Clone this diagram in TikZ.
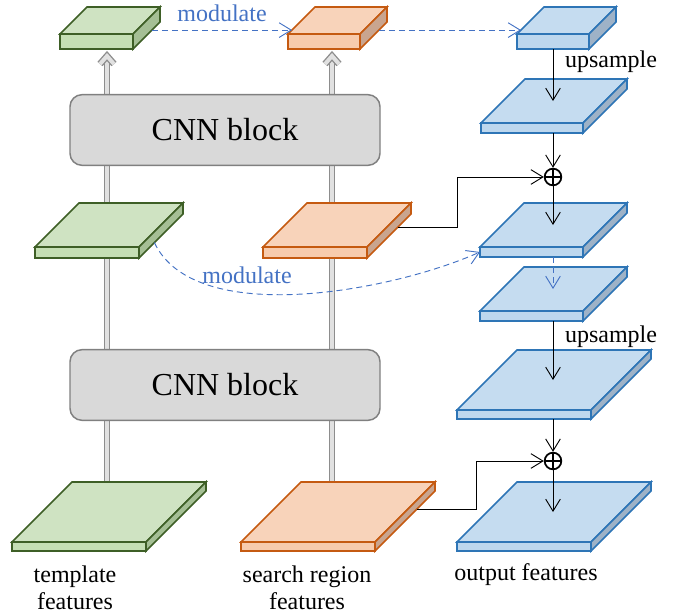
\documentclass[tikz,border=0pt]{standalone}
\usepackage{fontspec}
\setmainfont{Liberation Serif}
\usetikzlibrary{arrows.meta}
\definecolor{greentop}{HTML}{CFE3C2}
\definecolor{greenfront}{HTML}{C5DFB4}
\definecolor{greenside}{HTML}{A5BF95}
\definecolor{greenline}{HTML}{3E5F26}
\definecolor{orangetop}{HTML}{F8D3BA}
\definecolor{orangefront}{HTML}{F7CBAD}
\definecolor{orangeside}{HTML}{C9A58F}
\definecolor{orangeline}{HTML}{C55A11}
\definecolor{bluetop}{HTML}{C5DCF0}
\definecolor{bluefront}{HTML}{BDD7EE}
\definecolor{blueside}{HTML}{9EB2C7}
\definecolor{blueline}{HTML}{2E75B6}
\definecolor{modblue}{HTML}{4472C4}
\definecolor{blockfill}{HTML}{D9D9D9}
\definecolor{blockline}{HTML}{808080}

% feature slab: name, x, y (front top-left), width, depth, thickness, colour
\newcommand{\slab}[7]{%
  \filldraw[slabline, draw=#7line, fill=#7top] (#2,#3) -- ++(#4,0) -- ++(#5,-#5) -- ++(-#4,0) -- cycle;
  \filldraw[slabline, draw=#7line, fill=#7front] (#2,#3) rectangle ++(#4,#6);
  \filldraw[slabline, draw=#7line, fill=#7side] (#2+#4,#3) -- ++(#5,-#5) -- ++(0,#6) -- ++(-#5,#5) -- cycle;
  \coordinate (#1) at (#2+#4/2+#5/2, #3-#5/2);
  \coordinate (#1-b) at (#2+#4/2, #3+#6);
  \coordinate (#1-r) at (#2+#4+0.7*#5, #3-0.7*#5+#6);
  \coordinate (#1-s) at (#2+#4+0.35*#5, #3-0.35*#5+#6);
  \coordinate (#1-l) at (#2+0.15*#5, #3-0.15*#5);
  \coordinate (#1-fl) at (#2, #3+#6/2);
}

\begin{document}
\begin{tikzpicture}[x=0.75pt, y=-0.75pt,
  slabline/.style={line width=1.2pt, line join=miter},
  cnnblock/.style={draw=blockline, fill=blockfill, line width=1.1pt, rounded corners=9pt, minimum width=232.5pt, minimum height=53pt, font=\fontsize{24}{28}\selectfont},
  shaft/.style={draw=blockline!90, double=blockfill!80, double distance=3pt, line width=1pt},
  shafthead/.style={shaft, line join=miter, line cap=butt},
  flow/.style={line width=0.7pt, -{Straight Barb[length=9pt, width=11pt]}},
  modulate/.style={modblue, dash pattern=on 4.5pt off 3pt, line width=0.7pt, -{Straight Barb[length=9pt, width=11pt]}},
  oplus/.style={circle, draw, line width=1.3pt, minimum size=12.5pt, inner sep=0pt,
    path picture={\draw[line width=1.2pt] (path picture bounding box.north) -- (path picture bounding box.south)
      (path picture bounding box.west) -- (path picture bounding box.east);}},
  lbl/.style={font=\fontsize{18}{20}\selectfont, align=center}
]
  \fill[white] (0,0) rectangle (678,615);
  \useasboundingbox (0,0) rectangle (678,615);

  % backbone shafts
  \coordinate (gfoot) at (107,512);
  \coordinate (ghead) at (107,56);
  \coordinate (ofoot) at (332,512);
  \coordinate (ohead) at (332,56);
  \draw[shaft] (gfoot) -- (ghead);
  \draw[shafthead] (ghead) ++(-7,8) -- ++(7,-8) -- ++(7,8);
  \draw[shaft] (ofoot) -- (ohead);
  \draw[shafthead] (ohead) ++(-7,8) -- ++(7,-8) -- ++(7,8);

  \node[cnnblock] (cnn1) at (225,130) {CNN block};
  \node[cnnblock] (cnn2) at (225,385) {CNN block};

  % template branch
  \slab{gs}{60}{34}{73}{27}{15}{green}
  \slab{gm}{35}{247}{104}{44}{11}{green}
  \slab{gb}{12}{542}{134}{60}{9}{green}
  % search region branch
  \slab{os}{288}{34}{72}{27}{15}{orange}
  \slab{om}{263}{247}{104}{44}{11}{orange}
  \slab{ob}{241}{542}{134}{60}{9}{orange}
  % output branch
  \slab{bs}{517}{34}{72}{27}{15}{blue}
  \slab{b2}{481}{123}{102}{44}{10}{blue}
  \slab{b3}{480}{247}{103}{44}{10}{blue}
  \slab{b4}{480}{311}{103}{44}{10}{blue}
  \slab{b5}{457}{410}{134}{60}{9}{blue}
  \slab{b6}{457}{542}{134}{60}{9}{blue}

  \node[oplus] (sum1) at (553,177) {};
  \node[oplus] (sum2) at (553,461) {};

  % decoder flow
  \draw[flow] (bs-b) -- (bs-b |- b2);
  \draw[flow] (b2-b -| sum1) -- (sum1);
  \draw[flow] (sum1) -- (sum1 |- b3);
  \draw[modulate] (b3-b -| sum1) -- (sum1 |- b4);
  \draw[flow] (b4-b -| sum1) -- (sum1 |- b5);
  \draw[flow] (b5-b -| sum2) -- (sum2);
  \draw[flow] (sum2) -- (sum2 |- b6);
  \draw[flow] (om-r) -- ++(60,0) |- (sum1);
  \draw[flow] (ob-r) -- ++(59,0) |- (sum2);

  % modulation
  \draw[modulate] (gs-r) -- (gs-r -| os-l);
  \draw[modulate] (os-r) -- (os-r -| bs-l);
  \draw[modulate] (gm-s) .. controls +(40,85) and +(-90,40) .. (b3-fl);

  \node[lbl, text=modblue] (modtop) at (222,13) {modulate};
  \node[lbl, text=modblue] (modmid) at (247,275) {modulate};
  \node[lbl] (up1) at (611,62) {upsample};
  \node[lbl] (up2) at (611,337) {upsample};

  \node[lbl] (tpl) at (75,588) {template\\features};
  \node[lbl] (srch) at (307,588) {search region\\features};
  \node[lbl] (outf) at (526,575) {output features};
\end{tikzpicture}
\end{document}
